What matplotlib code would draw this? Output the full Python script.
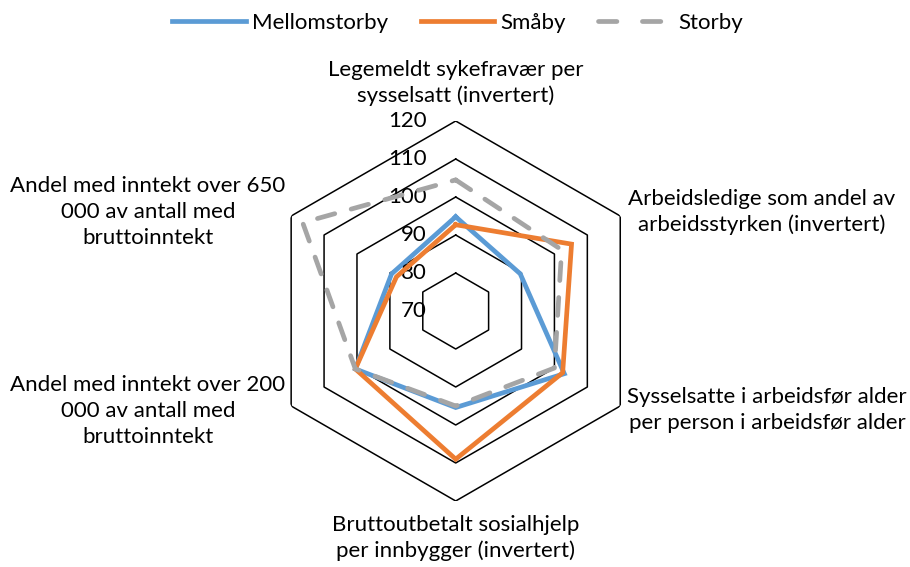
import numpy as np
import matplotlib
matplotlib.use("Agg")
import matplotlib.pyplot as plt
from matplotlib.lines import Line2D

plt.rcParams['font.family'] = ['Lato', 'DejaVu Sans']

# Indikatorer (med klokka fra toppen)
kategorier = [
    "Legemeldt sykefravær per\nsysselsatt (invertert)",
    "Arbeidsledige som andel av\narbeidsstyrken (invertert)",
    "Sysselsatte i arbeidsfør alder\nper person i arbeidsfør alder",
    "Bruttoutbetalt sosialhjelp\nper innbygger (invertert)",
    "Andel med inntekt over 200\n000 av antall med\nbruttoinntekt",
    "Andel med inntekt over 650\n000 av antall med\nbruttoinntekt",
]
mellomstorby = [94.8, 89.6, 103.0, 95.4, 100.5, 89.5]
smaby = [92.7, 105.2, 102.5, 109.0, 100.5, 88.0]
storby = [104.5, 102.2, 100.0, 95.0, 100.5, 116.5]
serienavn = ["Mellomstorby", "Småby", "Storby"]
skala = [70, 80, 90, 100, 110, 120]

W, H = 910, 567
fig = plt.figure(figsize=(W / 100, H / 100), dpi=100)

# polar-akse plassert i piksler: sentrum (456, 311), radius 190
cx, cy, rad = 455.7, 311, 190
ax = fig.add_axes([(cx - rad) / W, (H - cy - rad) / H, 2 * rad / W, 2 * rad / H],
                  projection='polar')
ax.set_theta_zero_location('N')
ax.set_theta_direction(-1)
ax.set_ylim(skala[0], skala[-1])
ax.grid(False)
ax.set_xticks([])
ax.set_yticks([])
ax.spines['polar'].set_visible(False)
ax.patch.set_visible(False)

n = len(kategorier)
vinkler = np.linspace(0, 2 * np.pi, n, endpoint=False)
lukket = np.append(vinkler, vinkler[0])

# sekskantede rutenettlinjer
for v in skala[1:]:
    ax.plot(lukket, [v] * (n + 1), color='black', lw=1.1, zorder=1)

def lukk(verdier):
    return list(verdier) + [verdier[0]]

farger = ['#5B9BD5', '#ED7D31', '#A5A5A5']
l1, = ax.plot(lukket, lukk(mellomstorby), color=farger[0], lw=3.4,
              solid_joinstyle='miter', zorder=3)
l2, = ax.plot(lukket, lukk(smaby), color=farger[1], lw=3.4,
              solid_joinstyle='miter', zorder=4)
ax.plot(lukket, lukk(storby), color=farger[2], lw=3.4,
        dashes=(3.8, 3.6), dash_capstyle='round', zorder=5)

# egen legendestrek for Storby: to streker med mellomrom
l3 = Line2D([], [], color=farger[2], lw=3.4, dashes=(3.9, 5.4),
            dash_capstyle='round')

# verdiakse til venstre for toppaksen
for v in skala:
    ax.annotate(str(v), xy=(0, v), xytext=(-21, 0), textcoords='offset points',
                ha='right', va='center', fontsize=16, color='black',
                annotation_clip=False)

# kategoritekster
posisjoner = [(456, 83), (762, 212), (767, 410), (456, 538), (148, 411), (148, 212)]
for tekst, (px, py) in zip(kategorier, posisjoner):
    fig.text(px / W, 1 - py / H, tekst, ha='center', va='center', fontsize=16,
             linespacing=1.35, color='black')

fig.legend([l1, l2, l3], serienavn, loc='upper center', bbox_to_anchor=(0.503, 1.012),
           ncol=3, frameon=False, fontsize=16, handlelength=3.3,
           columnspacing=1.45, handletextpad=0.3)

fig.savefig('out.png', dpi=100)
